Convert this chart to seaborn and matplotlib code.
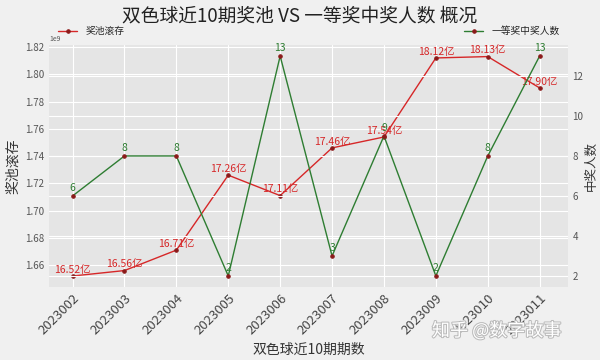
import matplotlib
matplotlib.use("Agg")
import matplotlib.pyplot as plt
import seaborn as sns
import pandas as pd
import matplotlib.patheffects as pe

periods = ["2023002", "2023003", "2023004", "2023005", "2023006",
           "2023007", "2023008", "2023009", "2023010", "2023011"]
pool_yi = [16.52, 16.56, 16.71, 17.26, 17.11, 17.46, 17.54, 18.12, 18.13, 17.90]
winners = [6, 8, 8, 2, 13, 3, 9, 2, 8, 13]

plt.style.use("ggplot")
sns.set_style("darkgrid", {"axes.facecolor": "#E5E5E5", "grid.color": "white"})
plt.rcParams['font.family'] = ['Noto Sans CJK SC', 'DejaVu Sans']
plt.rcParams['axes.unicode_minus'] = False

df = pd.DataFrame({"period": periods,
                   "pool": [v * 1e8 for v in pool_yi],
                   "winners": winners})

fig = plt.figure(figsize=(6, 3.6), dpi=100, facecolor="#F0F0F0")
ax = fig.add_axes([0.082, 0.203, 0.865, 0.672])
ax.set_facecolor("#E5E5E5")
ax2 = ax.twinx()

sns.lineplot(data=df, x="period", y="pool", ax=ax, sort=False, color="#D62728",
             linewidth=1.0, marker="o", markersize=2.5, markerfacecolor="#8B1A1A",
             markeredgecolor="#8B1A1A", label="奖池滚存")
sns.lineplot(data=df, x="period", y="winners", ax=ax2, sort=False, color="#2E7D32",
             linewidth=1.0, marker="o", markersize=2.5, markerfacecolor="#8B1A1A",
             markeredgecolor="#8B1A1A", label="一等奖中奖人数")

for i, v in enumerate(pool_yi):
    ax.annotate(f"{v:.2f}亿", (i, v * 1e8), xytext=(0, 1), textcoords="offset points",
                ha="center", va="bottom", fontsize=7.5, color="#D62728")
for i, v in enumerate(winners):
    ax2.annotate(f"{v}", (i, v), xytext=(0, 2), textcoords="offset points",
                 ha="center", va="bottom", fontsize=7.5, color="#2E7D32")

ax.set_ylim(1.644e9, 1.8215e9)
ax2.set_ylim(1.45, 13.55)
ax.set_xlim(-0.45, 9.55)
ax.set_yticks([1.66e9, 1.68e9, 1.70e9, 1.72e9, 1.74e9, 1.76e9, 1.78e9, 1.80e9, 1.82e9])
ax2.set_yticks([2, 4, 6, 8, 10, 12])
ax.yaxis.get_offset_text().set_fontsize(5)

ax.tick_params(axis="y", labelsize=7, colors="#555555", length=0)
ax2.tick_params(axis="y", labelsize=7, colors="#555555", length=0, pad=3)
ax.tick_params(axis="x", labelsize=9.5, colors="#444444", length=0)
plt.setp(ax.get_xticklabels(), rotation=45, ha="right", rotation_mode="anchor")

ax.set_xlabel("双色球近10期期数", fontsize=10, color="#333333")
ax.set_ylabel("奖池滚存", fontsize=10, color="#333333")
ax2.set_ylabel("中奖人数", fontsize=9, color="#333333", rotation=90, labelpad=1)
ax2.grid(True, color="white", linewidth=0.8)
ax2.set_facecolor("none")
for a in (ax, ax2):
    for s in a.spines.values():
        s.set_visible(False)

ax.legend(loc="lower left", bbox_to_anchor=(0.0, 1.0), frameon=False, fontsize=7)
ax2.legend(loc="lower right", bbox_to_anchor=(1.0, 1.0), frameon=False, fontsize=7)

fig.suptitle("双色球近10期奖池 VS 一等奖中奖人数 概况", fontsize=13.5, y=0.985, color="#222222")

fig.text(0.935, 0.055, "知乎 @数字故事", ha="right", va="bottom", fontsize=13,
         color="white", path_effects=[pe.withStroke(linewidth=1.5, foreground="#BBBBBB")])

fig.savefig("out.png", dpi=100, facecolor=fig.get_facecolor())
